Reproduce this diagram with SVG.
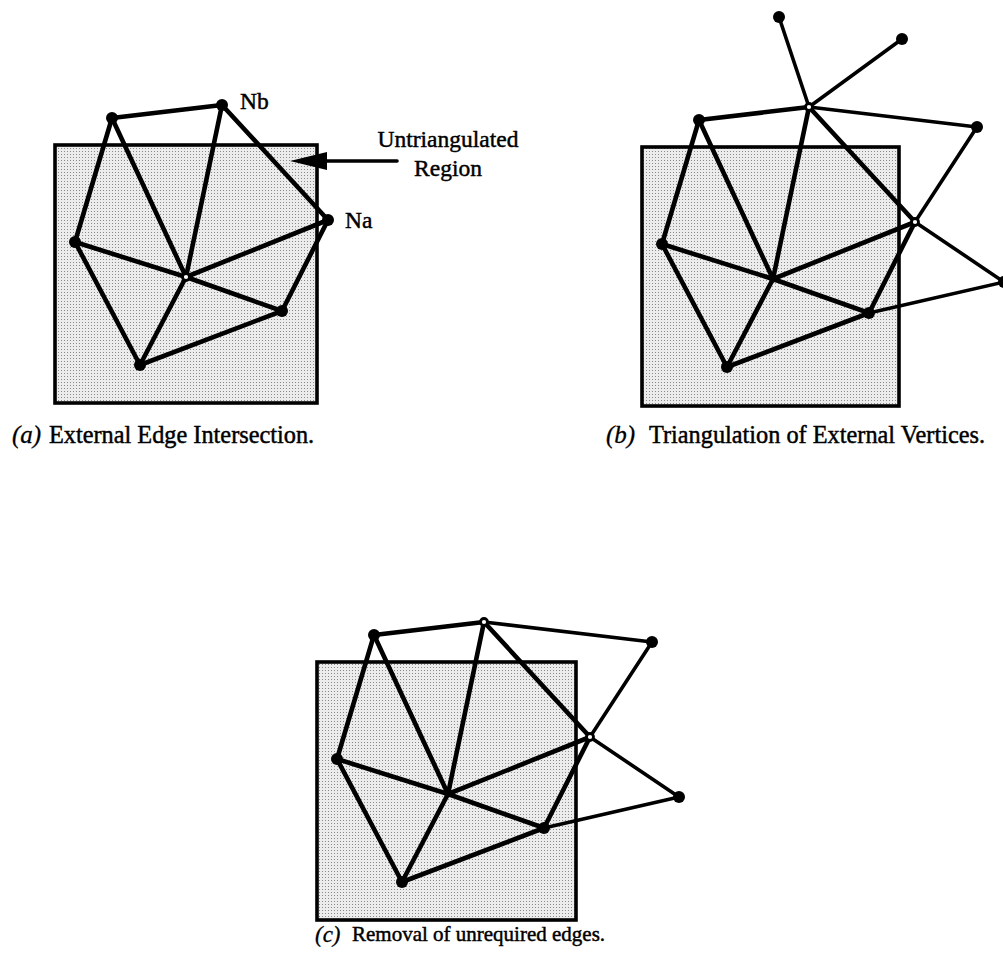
<svg xmlns="http://www.w3.org/2000/svg" width="1003" height="963" viewBox="0 0 1003 963">
  <defs>
    <!-- halftone stipple used for the mesh region -->
    <pattern id="stipple" width="3" height="3" patternUnits="userSpaceOnUse">
      <rect width="3" height="3" fill="#ececec"/>
      <rect x="1" y="1" width="1" height="1" fill="#8a8a8a"/>
    </pattern>
    <style>
      .region { fill: url(#stipple); stroke: #000; stroke-width: 3.6; }
      .edge { stroke: #000; stroke-width: 4.6; stroke-linecap: round; fill: none; }
      .edge2 { stroke: #000; stroke-width: 3.6; stroke-linecap: round; fill: none; }
      .dot { fill: #000; }
      .open { fill: #fff; stroke: #000; stroke-width: 2.8; }
      .lbl { font-family: "Liberation Serif", "Times New Roman", serif; font-size: 23.5px; fill: #000; stroke: #000; stroke-width: 0.45; }
      .cap { font-family: "Liberation Serif", "Times New Roman", serif; font-size: 24.3px; fill: #000; stroke: #000; stroke-width: 0.45; }
      .tag { font-family: "Liberation Serif", "Times New Roman", serif; font-style: italic; font-size: 25px; fill: #000; stroke: #000; stroke-width: 0.3; }
    </style>
  </defs>
  <rect width="1003" height="963" fill="#fff"/>

  <!-- (a) External edge intersection -->
  <g id="panel-a">
    <rect class="region" x="55" y="145" width="262" height="258"/>
    <g id="edges-a">
      <line class="edge" x1="112" y1="118" x2="222" y2="105"/>
      <line class="edge" x1="112" y1="118" x2="75" y2="242"/>
      <line class="edge" x1="112" y1="118" x2="186" y2="277"/>
      <line class="edge" x1="222" y1="105" x2="186" y2="277"/>
      <line class="edge" x1="222" y1="105" x2="328" y2="220"/>
      <line class="edge" x1="328" y1="220" x2="186" y2="277"/>
      <line class="edge" x1="328" y1="220" x2="282" y2="311"/>
      <line class="edge" x1="75" y1="242" x2="186" y2="277"/>
      <line class="edge" x1="75" y1="242" x2="140" y2="365"/>
      <line class="edge" x1="186" y1="277" x2="140" y2="365"/>
      <line class="edge" x1="186" y1="277" x2="282" y2="311"/>
      <line class="edge" x1="282" y1="311" x2="140" y2="365"/>
      <!-- arrow pointing at the untriangulated region -->
      <line class="edge2" x1="397" y1="161" x2="320" y2="161"/>
      <polygon points="290,161 327,152 327,170" fill="#000"/>
    </g>
    <g id="a-n1"><circle class="dot" cx="112" cy="118" r="6"/></g>
    <g id="a-nb"><circle class="dot" cx="222" cy="105" r="6"/><text class="lbl" x="240" y="109">Nb</text></g>
    <g id="a-na"><circle class="dot" cx="328" cy="220" r="6"/><text class="lbl" x="345" y="228">Na</text></g>
    <g id="a-n2"><circle class="dot" cx="75" cy="242" r="6"/></g>
    <g id="a-c"><circle class="open" cx="186" cy="277" r="3.5"/></g>
    <g id="a-n3"><circle class="dot" cx="282" cy="311" r="6"/></g>
    <g id="a-n4"><circle class="dot" cx="140" cy="365" r="6"/></g>
    <g id="a-note">
      <text class="lbl" x="448" y="147" text-anchor="middle">Untriangulated</text>
      <text class="lbl" x="448" y="176" text-anchor="middle">Region</text>
    </g>
    <g id="a-caption">
      <text class="tag" x="12" y="443">(a)</text>
      <text class="cap" x="49" y="443">External Edge Intersection.</text>
    </g>
  </g>

  <!-- (b) Triangulation of external vertices -->
  <g id="panel-b">
    <rect class="region" x="642" y="147" width="257" height="259"/>
    <g id="edges-b" transform="translate(587,2)">
      <line class="edge" x1="112" y1="118" x2="222" y2="105"/>
      <line class="edge" x1="112" y1="118" x2="75" y2="242"/>
      <line class="edge" x1="112" y1="118" x2="186" y2="277"/>
      <line class="edge" x1="222" y1="105" x2="186" y2="277"/>
      <line class="edge" x1="222" y1="105" x2="328" y2="220"/>
      <line class="edge" x1="328" y1="220" x2="186" y2="277"/>
      <line class="edge" x1="328" y1="220" x2="282" y2="311"/>
      <line class="edge" x1="75" y1="242" x2="186" y2="277"/>
      <line class="edge" x1="75" y1="242" x2="140" y2="365"/>
      <line class="edge" x1="186" y1="277" x2="140" y2="365"/>
      <line class="edge" x1="186" y1="277" x2="282" y2="311"/>
      <line class="edge" x1="282" y1="311" x2="140" y2="365"/>
      <line class="edge2" x1="192" y1="15" x2="222" y2="105"/>
      <line class="edge2" x1="315" y1="37" x2="222" y2="105"/>
      <line class="edge2" x1="222" y1="105" x2="390" y2="125"/>
      <line class="edge2" x1="390" y1="125" x2="328" y2="220"/>
      <line class="edge2" x1="328" y1="220" x2="417" y2="280"/>
      <line class="edge2" x1="417" y1="280" x2="282" y2="311"/>
    </g>
    <g transform="translate(587,2)">
      <g id="b-t1"><circle class="dot" cx="192" cy="15" r="6"/></g>
      <g id="b-t2"><circle class="dot" cx="315" cy="37" r="6"/></g>
      <g id="b-n1"><circle class="dot" cx="112" cy="118" r="6"/></g>
      <g id="b-nb"><circle class="open" cx="222" cy="105" r="3.5"/></g>
      <g id="b-r1"><circle class="dot" cx="390" cy="125" r="6"/></g>
      <g id="b-na"><circle class="open" cx="328" cy="220" r="3.5"/></g>
      <g id="b-n2"><circle class="dot" cx="75" cy="242" r="6"/></g>
      <g id="b-c"><circle class="dot" cx="186" cy="277" r="3.5"/></g>
      <g id="b-r2"><circle class="dot" cx="417" cy="280" r="6"/></g>
      <g id="b-n3"><circle class="dot" cx="282" cy="311" r="6"/></g>
      <g id="b-n4"><circle class="dot" cx="140" cy="365" r="6"/></g>
    </g>
    <g id="b-caption">
      <text class="tag" x="606" y="443">(b)</text>
      <text class="cap" x="649" y="443">Triangulation of External Vertices.</text>
    </g>
  </g>

  <!-- (c) Removal of unrequired edges -->
  <g id="panel-c">
    <rect class="region" x="317" y="662" width="259" height="258"/>
    <g id="edges-c" transform="translate(262,517)">
      <line class="edge" x1="112" y1="118" x2="222" y2="105"/>
      <line class="edge" x1="112" y1="118" x2="75" y2="242"/>
      <line class="edge" x1="112" y1="118" x2="186" y2="277"/>
      <line class="edge" x1="222" y1="105" x2="186" y2="277"/>
      <line class="edge" x1="222" y1="105" x2="328" y2="220"/>
      <line class="edge" x1="328" y1="220" x2="186" y2="277"/>
      <line class="edge" x1="328" y1="220" x2="282" y2="311"/>
      <line class="edge" x1="75" y1="242" x2="186" y2="277"/>
      <line class="edge" x1="75" y1="242" x2="140" y2="365"/>
      <line class="edge" x1="186" y1="277" x2="140" y2="365"/>
      <line class="edge" x1="186" y1="277" x2="282" y2="311"/>
      <line class="edge" x1="282" y1="311" x2="140" y2="365"/>
      <line class="edge2" x1="222" y1="105" x2="390" y2="125"/>
      <line class="edge2" x1="390" y1="125" x2="328" y2="220"/>
      <line class="edge2" x1="328" y1="220" x2="417" y2="280"/>
      <line class="edge2" x1="417" y1="280" x2="282" y2="311"/>
    </g>
    <g transform="translate(262,517)">
      <g id="c-n1"><circle class="dot" cx="112" cy="118" r="6"/></g>
      <g id="c-nb"><circle class="open" cx="222" cy="105" r="3.5"/></g>
      <g id="c-r1"><circle class="dot" cx="390" cy="125" r="6"/></g>
      <g id="c-na"><circle class="open" cx="328" cy="220" r="3.5"/></g>
      <g id="c-n2"><circle class="dot" cx="75" cy="242" r="6"/></g>
      <g id="c-c"><circle class="dot" cx="186" cy="277" r="3.5"/></g>
      <g id="c-r2"><circle class="dot" cx="417" cy="280" r="6"/></g>
      <g id="c-n3"><circle class="dot" cx="282" cy="311" r="6"/></g>
      <g id="c-n4"><circle class="dot" cx="140" cy="365" r="6"/></g>
    </g>
    <g id="c-caption">
      <text class="tag" x="315" y="942" style="font-size:23px">(c)</text>
      <text class="cap" x="352" y="941" style="font-size:21px">Removal of unrequired edges.</text>
    </g>
  </g>
</svg>
